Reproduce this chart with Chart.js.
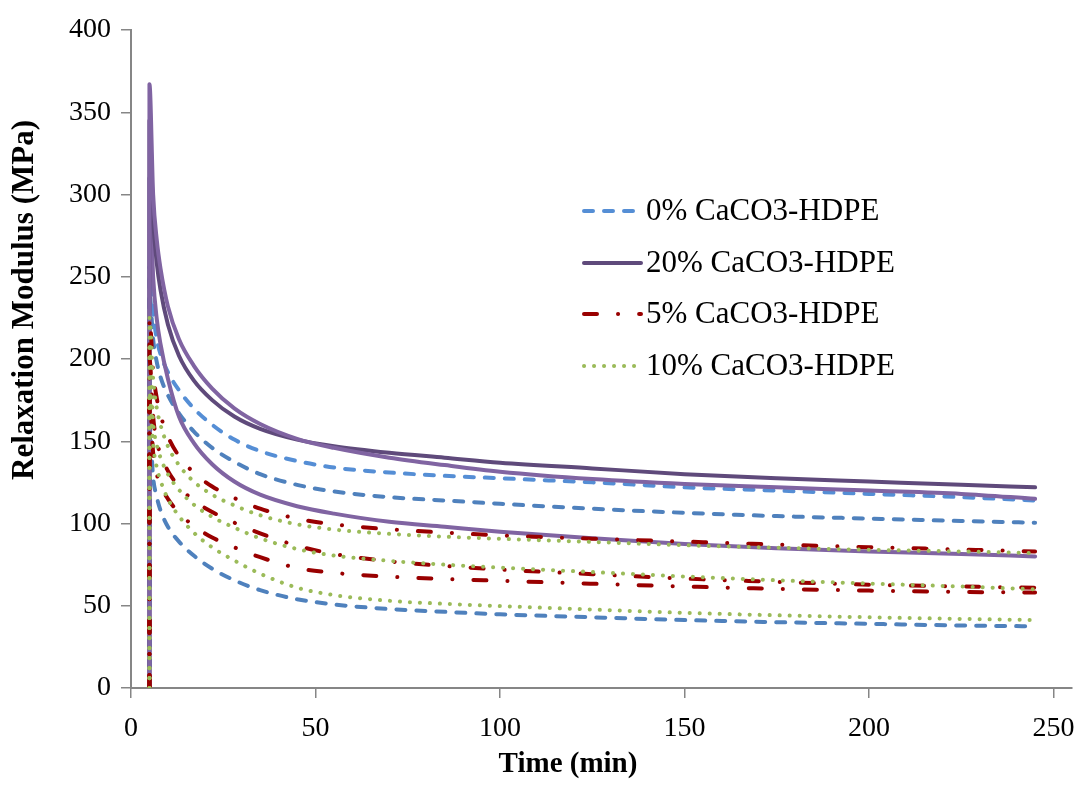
<!DOCTYPE html>
<html>
<head>
<meta charset="utf-8">
<script src="https://cdn.jsdelivr.net/npm/chart.js@4"></script>
<style>
  html, body { margin: 0; padding: 0; background: #fff; }
  #wrap { width: 1078px; height: 787px; }
</style>
</head>
<body>
<div id="wrap"><canvas id="relaxChart" width="1078" height="787"></canvas></div>
<script>
// time axis (min), shared by every curve; first two points are the loading step at t = 5
const time = [5, 5, 6, 7, 8, 10, 13, 17, 22, 28, 35, 45, 55, 70, 85, 100, 125, 150, 175, 200, 225, 245];

// 0% CaCO3-HDPE (three samples)
const pure1 = [0, 256, 228, 212, 203, 192, 181, 170, 160, 151, 144, 138, 134, 131, 129, 127.5, 125, 122, 120, 118, 116, 114];
const pure2 = [0, 240, 212, 198, 189, 178, 167, 156, 146, 137.5, 130, 123.5, 119.5, 116, 114, 112, 109, 106.5, 104.5, 103, 101.5, 100.5];
const pure3 = [0, 160, 128, 116, 108, 98, 89, 80.5, 72.5, 65.5, 59.5, 54, 50.8, 48, 46.3, 44.8, 43, 41.3, 40, 39, 38, 37.5];

// 20% CaCO3-HDPE
const filled20a = [0, 367, 300, 272, 255, 232, 212, 196, 182, 170, 160.5, 151.5, 146, 140, 135.5, 131.5, 127, 124, 122, 120, 118, 115];
const filled20b = [0, 345, 285, 258, 242, 221, 202, 187, 175, 165, 157.5, 151, 147, 143, 140, 137, 133.5, 130, 127.5, 125.5, 123.5, 122];
const filled20c = [0, 310, 250, 224, 209, 188, 165, 149, 136, 125.5, 117.5, 110.5, 106, 101, 98, 95, 91, 87.5, 85, 83, 81.5, 80];

// 5% CaCO3-HDPE
const filled5a = [0, 225, 192, 176, 166, 153, 141, 131, 122.5, 115.5, 109, 103, 99.5, 96.5, 94.5, 92.8, 90.8, 89, 87.2, 85.6, 84.2, 83];
const filled5b = [0, 200, 165, 150, 142, 132, 122.5, 114, 107, 100.5, 94, 86.5, 81.5, 77, 74.2, 72, 69.2, 66.5, 64.5, 62.8, 61.7, 61];
const filled5c = [0, 175, 143, 130, 123, 115, 106.5, 98.5, 91.5, 85.5, 79.5, 73, 70, 67.7, 66.3, 65.2, 63.4, 61.7, 60.3, 59.2, 58.4, 58];

// 10% CaCO3-HDPE
const filled10a = [0, 225, 188, 170, 160, 147, 135.5, 125.5, 117.5, 111, 105, 99.5, 96.3, 93.7, 92, 90.7, 88.8, 86.8, 85.3, 84, 83, 82];
const filled10b = [0, 210, 162, 148, 140, 130, 120.5, 111.5, 104, 97.5, 91, 84.5, 80.5, 77.3, 75, 73.2, 70.5, 67.8, 65.5, 63.5, 61.7, 60];
const filled10c = [0, 180, 148, 134, 126, 115, 104.5, 94.5, 85.5, 77.5, 69.5, 61, 56.5, 53, 51.2, 49.8, 47.7, 45.7, 44.2, 43, 42, 41.3];

const seriesNames = ["0% CaCO3-HDPE", "20% CaCO3-HDPE", "5% CaCO3-HDPE", "10% CaCO3-HDPE"];
const xTicks = [0, 50, 100, 150, 200, 250];
const yTicks = [0, 50, 100, 150, 200, 250, 300, 350, 400];
const xTitle = "Time (min)";
const yTitle = "Relaxation Modulus (MPa)";

const serif = "'Liberation Serif', 'Times New Roman', serif";
const axisGray = "#868686";

// per series: curves, colours, dash pattern, draw order (lower = on top)
const groups = [
    { curves: [pure1, pure2, pure3], colors: ["#558ED5", "#4F81BD", "#4F81BD"], dash: [9, 11], order: 4 },
    { curves: [filled20a, filled20b, filled20c], colors: ["#8064A2", "#5F4A7B", "#8064A2"], dash: [], order: 3 },
    { curves: [filled5a, filled5b, filled5c], colors: ["#990000", "#990000", "#990000"], dash: [13, 21, 0.1, 21], order: 2 },
    { curves: [filled10a, filled10b, filled10c], colors: ["#9BBB59", "#9BBB59", "#9BBB59"], dash: [0.1, 9.9], order: 1 }
];

const datasets = [];
groups.forEach((g, gi) => {
    g.curves.forEach((vals, ci) => {
        datasets.push({
            label: seriesNames[gi],
            data: time.map((t, i) => ({ x: t, y: vals[i] })),
            borderColor: g.colors[ci],
            borderWidth: 4,
            borderDash: g.dash,
            borderCapStyle: "round",
            borderJoinStyle: "round",
            cubicInterpolationMode: "monotone",
            showLine: true,
            fill: false,
            pointRadius: 0,
            order: g.order
        });
    });
});

// legend inside the plot + axis titles placed like the original
const overlay = {
    id: "overlay",
    afterDraw(chart) {
        const ctx = chart.ctx;
        const rowsY = [211, 263, 314, 366];
        ctx.save();
        groups.forEach((g, i) => {
            const y = rowsY[i];
            ctx.beginPath();
            ctx.strokeStyle = g.colors[i === 1 ? 1 : 0];
            ctx.lineWidth = 4;
            ctx.lineCap = "round";
            ctx.setLineDash(g.dash);
            ctx.moveTo(584, y);
            ctx.lineTo(641, y);
            ctx.stroke();
            ctx.setLineDash([]);
            ctx.fillStyle = "#000";
            ctx.font = "31px " + serif;
            ctx.textBaseline = "middle";
            ctx.textAlign = "left";
            ctx.fillText(seriesNames[i], 646, y + 1);
        });

        ctx.fillStyle = "#000";
        ctx.textAlign = "center";
        ctx.textBaseline = "middle";
        ctx.font = "bold 29px " + serif;
        ctx.fillText(xTitle, 568, 765);

        ctx.translate(25, 300);
        ctx.rotate(-Math.PI / 2);
        ctx.font = "bold 31px " + serif;
        ctx.fillText(yTitle, 0, 0);
        ctx.restore();
    }
};

new Chart(document.getElementById("relaxChart").getContext("2d"), {
    type: "scatter",
    data: { datasets: datasets },
    plugins: [overlay],
    options: {
        responsive: false,
        animation: false,
        devicePixelRatio: 1,
        layout: { padding: { top: 30, right: 6, left: 0, bottom: 0 } },
        plugins: {
            legend: { display: false },
            tooltip: { enabled: false }
        },
        scales: {
            x: {
                type: "linear",
                min: 0,
                max: 255,
                afterBuildTicks: s => { s.ticks = xTicks.map(v => ({ value: v })); },
                afterFit: s => { s.height = 99; s.paddingLeft = 0; s.paddingRight = 0; },
                ticks: {
                    color: "#000",
                    padding: 14,
                    maxRotation: 0,
                    font: { family: serif, size: 28 }
                },
                grid: { drawOnChartArea: false, drawTicks: true, tickLength: 10, color: axisGray, lineWidth: 1.5 },
                border: { color: axisGray, width: 2 }
            },
            y: {
                min: 0,
                max: 400,
                afterBuildTicks: s => { s.ticks = yTicks.map(v => ({ value: v })); },
                afterFit: s => { s.width = 131; },
                ticks: {
                    color: "#000",
                    padding: 10,
                    font: { family: serif, size: 28 }
                },
                grid: { drawOnChartArea: false, drawTicks: true, tickLength: 10, color: axisGray, lineWidth: 1.5 },
                border: { color: axisGray, width: 2 }
            }
        }
    }
});
</script>
</body>
</html>
